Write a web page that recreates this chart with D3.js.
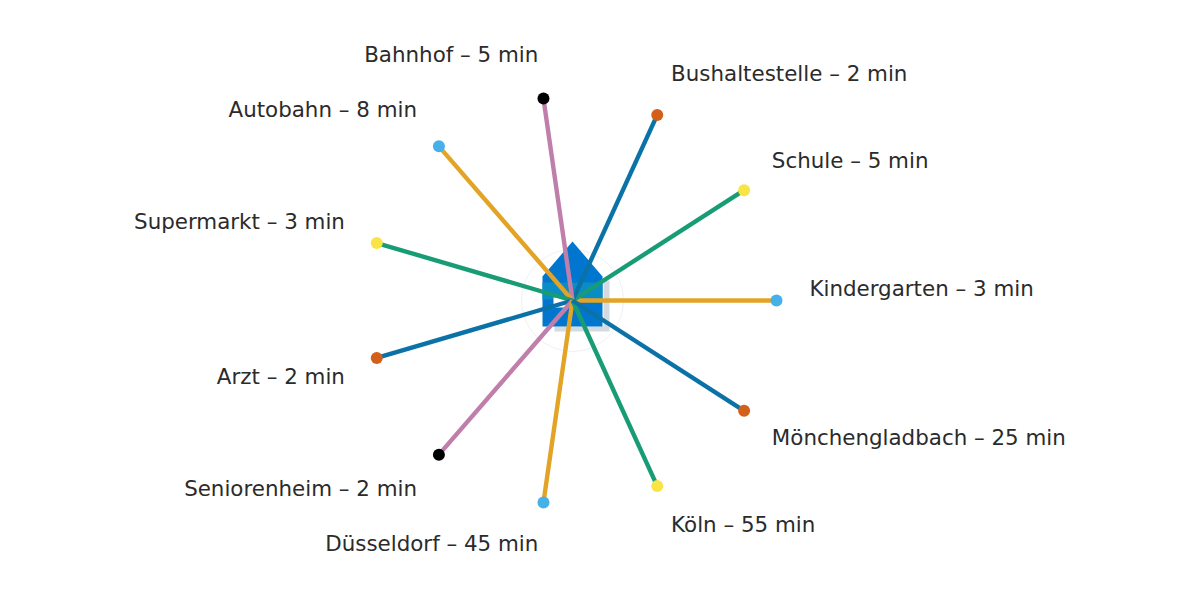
<!DOCTYPE html>
<html>
<head>
<meta charset="utf-8">
<script src="https://cdn.jsdelivr.net/npm/d3@7"></script>
<style>
  html, body { margin: 0; background: #fff; }
  text { font-family: "DejaVu Sans", sans-serif; font-size: 21.4px; fill: #2b2b2b; }
</style>
</head>
<body>
<svg class="chart"></svg>
<script>
// data
var places = ['Kindergarten', 'Schule', 'Bushaltestelle', 'Bahnhof', 'Autobahn', 'Supermarkt',
  'Arzt', 'Seniorenheim', 'Düsseldorf', 'Köln', 'Mönchengladbach'];
var minutes = [3, 5, 2, 5, 8, 3, 2, 2, 45, 55, 25];
var spokeColors = ['#e3a325', '#189c75', '#0b72a8', '#c07fab', '#e3a325', '#189c75',
  '#0b72a8', '#c07fab', '#e3a325', '#189c75', '#0b72a8'];
var dotColors = ['#45b1e8', '#f8e545', '#d2601a', '#000000', '#45b1e8', '#f8e545',
  '#d2601a', '#000000', '#45b1e8', '#f8e545', '#d2601a'];

// chart
var width = 1200;
var height = 600;
var center = {x: 572.5, y: 300.5};

var chart = d3.select('.chart')
    .attr('width', width)
    .attr('height', height)
    .style('display', 'block');

var angle = d3.scaleLinear()
    .domain([0, places.length])
    .range([0, 2 * Math.PI]);

// every place sits on the same ring, length does not follow the minutes
var radius = d3.scaleLinear()
    .domain([0, 1])
    .range([0, 204]);

function px(i, r) {return center.x + radius(r) * Math.cos(angle(i));}
function py(i, r) {return center.y - radius(r) * Math.sin(angle(i));}

var root = chart.append('g');

// house behind the spokes
var house = root.append('g')
    .attr('transform', 'translate(' + center.x + ',' + center.y + ')');

house.append('circle')
    .attr('r', 51)
    .attr('fill', 'none')
    .attr('stroke', '#f0f0f3')
    .attr('stroke-width', 1);

house.append('path')
    .attr('d', 'M-18,31H37V-20H31V26H-18Z')
    .attr('fill', '#d5dae0');

house.append('path')
    .attr('d', 'M0,-59L30,-24V26H-30V-24Z')
    .attr('fill', '#0076ce');

house.append('rect')
    .attr('x', -30).attr('y', -18)
    .attr('width', 60).attr('height', 17)
    .attr('fill', '#0a8cc4');

house.append('rect')
    .attr('x', -19).attr('y', -3)
    .attr('width', 16).attr('height', 10)
    .attr('fill', '#fff');

// spokes
root.selectAll('.spoke')
    .data(places)
  .enter().append('line')
    .attr('class', 'spoke')
    .attr('x1', center.x)
    .attr('y1', center.y)
    .attr('x2', function(d, i) {return px(i, 1);})
    .attr('y2', function(d, i) {return py(i, 1);})
    .attr('stroke', function(d, i) {return spokeColors[i];})
    .attr('stroke-width', 4.4);

// end points
root.selectAll('.dot')
    .data(places)
  .enter().append('circle')
    .attr('class', 'dot')
    .attr('cx', function(d, i) {return px(i, 1);})
    .attr('cy', function(d, i) {return py(i, 1);})
    .attr('r', 6)
    .attr('fill', function(d, i) {return dotColors[i];});

// labels
root.selectAll('.label')
    .data(places)
  .enter().append('text')
    .attr('class', 'label')
    .attr('x', function(d, i) {
      var shift = Math.cos(angle(i)) >= 0 ? 0.3 : -0.5;
      return center.x + shift + (px(i, 1) - center.x) * 1.16;
    })
    .attr('y', function(d, i) {
      var up = Math.sin(angle(i)) >= 0 ? -11.5 : 9.5;
      return center.y - 0.5 + (py(i, 1) - center.y) * 1.16 + up;
    })
    .attr('dy', '0.35em')
    .attr('text-anchor', function(d, i) {return Math.cos(angle(i)) >= 0 ? 'start' : 'end';})
    .text(function(d, i) {return d + ' – ' + minutes[i] + ' min';});
</script>
</body>
</html>
